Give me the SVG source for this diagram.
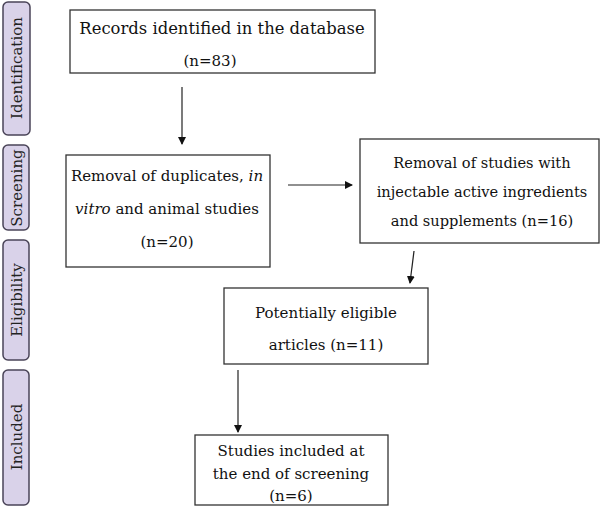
<svg xmlns="http://www.w3.org/2000/svg" width="600" height="506" viewBox="0 0 600 506">
<defs>
<marker id="ah" markerWidth="8" markerHeight="8" refX="7" refY="4" orient="auto" markerUnits="userSpaceOnUse">
<path d="M0,0 L8,4 L0,8 z" fill="#111"/>
</marker>
<style>
.box{fill:#fff;stroke:#333;stroke-width:1.3}
.side{fill:#d9d2e9;stroke:#4a4458;stroke-width:1.5}
.t{font-family:"DejaVu Serif","Liberation Serif",serif;font-size:15px;fill:#111;text-anchor:middle}
.s{font-family:"DejaVu Serif","Liberation Serif",serif;font-size:15px;fill:#222;text-anchor:middle}
.big{font-size:16.4px}
.sm{font-size:14.6px}
.c{stroke:#222;stroke-width:1.2;fill:none;marker-end:url(#ah)}
</style>
</defs>
<rect width="600" height="506" fill="#fff"/>
<g id="phase-identification"><rect class="side" x="3" y="2" width="27" height="133" rx="5"/><text class="s" transform="translate(22,68) rotate(-90)">Identification</text></g>
<g id="phase-screening"><rect class="side" x="3" y="145" width="26" height="85" rx="5"/><text class="s" transform="translate(22,188) rotate(-90)">Screening</text></g>
<g id="phase-eligibility"><rect class="side" x="3" y="240" width="26" height="120" rx="5"/><text class="s" transform="translate(22,300) rotate(-90)">Eligibility</text></g>
<g id="phase-included"><rect class="side" x="3" y="370" width="26" height="135" rx="5"/><text class="s" transform="translate(22,437) rotate(-90)">Included</text></g>
<g id="connectors">
<line class="c" x1="182" y1="87" x2="182" y2="144"/>
<line class="c" x1="288" y1="185" x2="352" y2="185"/>
<line class="c" x1="414" y1="251" x2="410" y2="283"/>
<line class="c" x1="238" y1="370" x2="238" y2="432"/>
</g>
<g id="n1"><rect class="box" x="70" y="10" width="305" height="63"/><text class="t big" x="222" y="34">Records identified in the database</text><text class="t" x="210" y="66">(n=83)</text></g>
<g id="n2"><rect class="box" x="66" y="155" width="204" height="112"/><text class="t" x="167" y="181">Removal of duplicates, <tspan font-style="italic">in</tspan></text><text class="t" x="167" y="214"><tspan font-style="italic">vitro</tspan> and animal studies</text><text class="t" x="167" y="247">(n=20)</text></g>
<g id="n3"><rect class="box" x="360" y="139" width="239" height="104"/><text class="t sm" x="482" y="168">Removal of studies with</text><text class="t sm" x="482" y="197">injectable active ingredients</text><text class="t sm" x="482" y="226">and supplements (n=16)</text></g>
<g id="n4"><rect class="box" x="224" y="288" width="204" height="76"/><text class="t" x="326" y="318">Potentially eligible</text><text class="t" x="326" y="350">articles (n=11)</text></g>
<g id="n5"><rect class="box" x="195" y="435" width="193" height="70"/><text class="t" x="291" y="456">Studies included at</text><text class="t" x="291" y="479">the end of screening</text><text class="t" x="291" y="501">(n=6)</text></g>
</svg>
